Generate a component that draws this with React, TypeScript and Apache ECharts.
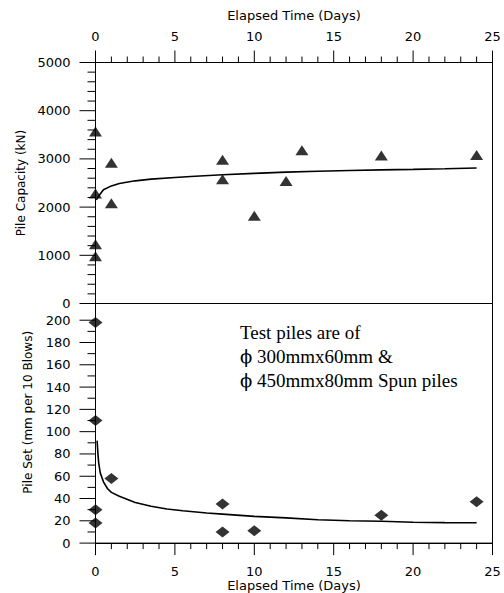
import React, { useEffect, useRef } from "react";
import * as echarts from "echarts";

// Measured pile capacity (upper panel)
const capDays = [0, 0, 0, 0, 1, 1, 8, 8, 10, 12, 13, 18, 24];
const capKN = [3570, 2280, 1230, 980, 2920, 2080, 2980, 2580, 1820, 2540, 3180, 3070, 3080];

// Fitted capacity curve
const capFitDays = [0.05, 0.25, 0.5, 1, 1.5, 2.5, 3.5, 5, 6, 8, 10, 12, 14, 16, 18, 20, 22, 24];
const capFitKN = [2150, 2250, 2360, 2440, 2490, 2545, 2580, 2615, 2635, 2670, 2700, 2725, 2745, 2760, 2772, 2783, 2795, 2810];

// Measured pile set (lower panel)
const setDays = [0, 0, 0, 0, 1, 8, 8, 10, 18, 24];
const setMM = [198, 110, 30, 18, 58, 35, 10, 11, 25, 37];

// Fitted set curve
const setFitDays = [0.1, 0.15, 0.2, 0.3, 0.5, 0.75, 1, 1.5, 2.5, 3.5, 4.5, 5.5, 7, 8, 10, 12, 14, 16, 18, 20, 22, 24];
const setFitMM = [92, 81, 72, 63, 55, 49, 45.5, 42, 36.5, 33, 30.6, 29, 27, 26, 24, 22.6, 21, 20.1, 19.6, 18.7, 18.4, 18.2];

// Tick values
const dayMajorTicks = [0, 5, 10, 15, 20, 25];
const dayMinorTicks = [1, 2, 3, 4, 6, 7, 8, 9, 11, 12, 13, 14, 16, 17, 18, 19, 21, 22, 23, 24];
const capMajorTicks = [0, 1000, 2000, 3000, 4000, 5000];
const capMinorTicks = [200, 400, 600, 800, 1200, 1400, 1600, 1800, 2200, 2400, 2600, 2800, 3200, 3400, 3600, 3800, 4200, 4400, 4600, 4800];
const setMajorTicks = [0, 20, 40, 60, 80, 100, 120, 140, 160, 180, 200];
const setMinorTicks = [10, 30, 50, 70, 90, 110, 130, 150, 170, 190];

const xAxisTitle = "Elapsed Time (Days)";
const capTitle = "Pile Capacity (kN)";
const setTitle = "Pile Set (mm per 10 Blows)";

const SANS = '"DejaVu Sans", sans-serif';
const BLACK = "#000";

const DAY_MAX = 25;
const CAP_MAX = 5000;
const SET_MAX = 215;

export default function App() {
  const ref = useRef<HTMLDivElement>(null);

  useEffect(() => {
    if (!ref.current) return;
    const chart = echarts.init(ref.current, undefined, { renderer: "svg" });

    const labelStyle = { color: BLACK, fontFamily: SANS, fontSize: 13 };
    const nameStyle = { color: BLACK, fontFamily: SANS, fontSize: 13 };
    const yNameStyle = { color: BLACK, fontFamily: SANS, fontSize: 12 };

    const labelAxis = (gridIndex: number, position: string, min: number, max: number, labels: number[], margin: number, extra: any) => ({
      gridIndex,
      type: "value",
      position,
      min,
      max,
      axisLine: { show: true, onZero: false, lineStyle: { color: BLACK, width: 1 } },
      axisTick: { show: false },
      axisLabel: { ...labelStyle, margin, customValues: labels, formatter: (v: number) => String(v) },
      splitLine: { show: false },
      ...extra,
    });

    const option: any = {
      animation: false,
      backgroundColor: "#fff",
      grid: [
        { left: 95.5, top: 62.5, width: 397, height: 241, show: true, borderColor: BLACK, borderWidth: 1 },
        { left: 95.5, top: 303.5, width: 397, height: 241, show: true, borderColor: BLACK, borderWidth: 1 },
      ],
      xAxis: [
        labelAxis(0, "top", 0, DAY_MAX, dayMajorTicks, 20, {
          name: xAxisTitle,
          nameLocation: "middle",
          nameGap: 41,
          nameTextStyle: nameStyle,
        }),
        labelAxis(1, "bottom", 0, DAY_MAX, dayMajorTicks, 22, {
          name: xAxisTitle,
          nameLocation: "middle",
          nameGap: 34,
          nameTextStyle: nameStyle,
        }),
      ],
      yAxis: [
        labelAxis(0, "left", 0, CAP_MAX, capMajorTicks, 25, {
          name: capTitle,
          nameLocation: "middle",
          nameGap: 64,
          nameTextStyle: yNameStyle,
        }),
        labelAxis(1, "left", 0, SET_MAX, setMajorTicks, 25, {
          name: setTitle,
          nameLocation: "middle",
          nameGap: 62,
          nameTextStyle: { ...yNameStyle, padding: [0, 0, 0, 22] },
        }),
      ],
      series: [
        {
          type: "line",
          xAxisIndex: 0,
          yAxisIndex: 0,
          data: capFitDays.map((d, i) => [d, capFitKN[i]]),
          showSymbol: false,
          smooth: false,
          lineStyle: { color: BLACK, width: 1.6 },
          z: 2,
        },
        {
          type: "scatter",
          xAxisIndex: 0,
          yAxisIndex: 0,
          data: capDays.map((d, i) => [d, capKN[i]]),
          symbol: "triangle",
          symbolSize: [13, 10],
          itemStyle: { color: BLACK },
          z: 3,
        },
        {
          type: "line",
          xAxisIndex: 1,
          yAxisIndex: 1,
          data: setFitDays.map((d, i) => [d, setFitMM[i]]),
          showSymbol: false,
          smooth: false,
          lineStyle: { color: BLACK, width: 1.6 },
          z: 2,
        },
        {
          type: "scatter",
          xAxisIndex: 1,
          yAxisIndex: 1,
          data: setDays.map((d, i) => [d, setMM[i]]),
          symbol: "diamond",
          symbolSize: [14, 11],
          itemStyle: { color: BLACK },
          z: 3,
        },
      ],
    };

    chart.setOption(option);

    // Tick marks: positions come from the axes' own scales via convertToPixel.
    const toPx = (idx: number, v: number[]) =>
      chart.convertToPixel({ xAxisIndex: idx, yAxisIndex: idx } as any, v) as number[];

    const tickEls: any[] = [];
    const addTick = (idx: number, v: number[], dx: number, dy: number, len: number) => {
      const p = toPx(idx, v);
      if (!p || isNaN(p[0]) || isNaN(p[1])) return;
      tickEls.push({
        type: "line",
        silent: true,
        z: 100,
        shape: { x1: p[0], y1: p[1], x2: p[0] + dx * len, y2: p[1] + dy * len },
        style: { stroke: BLACK, lineWidth: 1 },
      });
    };

    dayMajorTicks.forEach((d) => addTick(0, [d, CAP_MAX], 0, -1, 12));
    dayMinorTicks.forEach((d) => addTick(0, [d, CAP_MAX], 0, -1, 6));
    capMajorTicks.forEach((v) => addTick(0, [0, v], -1, 0, 16));
    capMinorTicks.forEach((v) => addTick(0, [0, v], -1, 0, 8));
    dayMajorTicks.forEach((d) => addTick(1, [d, 0], 0, 1, 12));
    dayMinorTicks.forEach((d) => addTick(1, [d, 0], 0, 1, 6));
    setMajorTicks.forEach((v) => addTick(1, [0, v], -1, 0, 16));
    setMinorTicks.forEach((v) => addTick(1, [0, v], -1, 0, 8));

    chart.setOption({
      graphic: [
        {
          type: "text",
          left: 240,
          top: 320,
          z: 100,
          style: {
            text: "Test piles are of\n{p|ϕ} 300mmx60mm &\n{p|ϕ} 450mmx80mm Spun piles",
            fill: BLACK,
            font: '19px "Liberation Serif", serif',
            lineHeight: 24,
            rich: {
              p: { fontFamily: '"DejaVu Serif", serif', fontSize: 18, fill: BLACK, lineHeight: 24 },
            },
          },
        },
        ...tickEls,
      ],
    });

    return () => chart.dispose();
  }, []);

  return (
    <div
      ref={ref}
      style={{ position: "absolute", left: 0, top: 0, width: 504, height: 593, background: "#fff" }}
    />
  );
}
